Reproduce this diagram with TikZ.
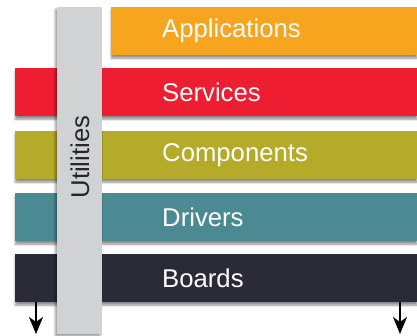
\documentclass[tikz,border=0pt]{standalone}
\usepackage{fontspec}
\setmainfont{Liberation Sans}
\usetikzlibrary{shadows.blur,arrows.meta}
\definecolor{cApp}{HTML}{F7A41F}
\definecolor{cSrv}{HTML}{EE1D31}
\definecolor{cCmp}{HTML}{B5AA2A}
\definecolor{cDrv}{HTML}{4B8A93}
\definecolor{cBrd}{HTML}{2B2B38}
\definecolor{cUtl}{HTML}{D1D2D4}
\tikzset{
  layer/.style={rectangle, inner sep=0pt, anchor=north west, minimum height=48pt,
    blur shadow={shadow xshift=0pt, shadow yshift=-3pt, shadow blur steps=6, shadow opacity=45}},
  lbl/.style={anchor=west, inner sep=0pt, text=white, font=\fontsize{25.7}{30}\selectfont},
  arr/.style={line width=2.2pt, -{Stealth[length=17pt,width=14pt,inset=5pt]}}
}
\begin{document}
\begin{tikzpicture}[x=1pt,y=-1pt]
\useasboundingbox (0,0) rectangle (417,336);
\node[layer, fill=cApp, minimum width=306pt] (app) at (111,7) {};
\node[layer, fill=cSrv, minimum width=402pt] (srv) at (15,68) {};
\node[layer, fill=cCmp, minimum width=402pt] (cmp) at (15,131) {};
\node[layer, fill=cDrv, minimum width=402pt] (drv) at (15,193) {};
\node[layer, fill=cBrd, minimum width=402pt] (brd) at (15,254) {};
\node[rectangle, inner sep=0pt, anchor=north west, fill=cUtl, minimum width=45pt, minimum height=327pt,
  blur shadow={shadow xshift=-2pt, shadow yshift=-2pt, shadow blur steps=6, shadow opacity=40}] (utl) at (57,7) {};
\node[rotate=90, inner sep=0pt, text=black!85, font=\fontsize{25.7}{30}\selectfont] (utltxt) at (80,157) {Utilities};
\node[lbl] (appt) at (app.west -| 162,0) {Applications};
\node[lbl] (srvt) at (srv.west -| 162,0) {Services};
\node[lbl] (cmpt) at (cmp.west -| 162,0) {Components};
\node[lbl] (drvt) at (drv.west -| 162,0) {Drivers};
\node[lbl] (brdt) at (brd.west -| 162,0) {Boards};
\coordinate (la) at (36,334);
\coordinate (ra) at (400,334);
\draw[arr] (brd.south -| la) -- (la);
\draw[arr] (brd.south -| ra) -- (ra);
\end{tikzpicture}
\end{document}
